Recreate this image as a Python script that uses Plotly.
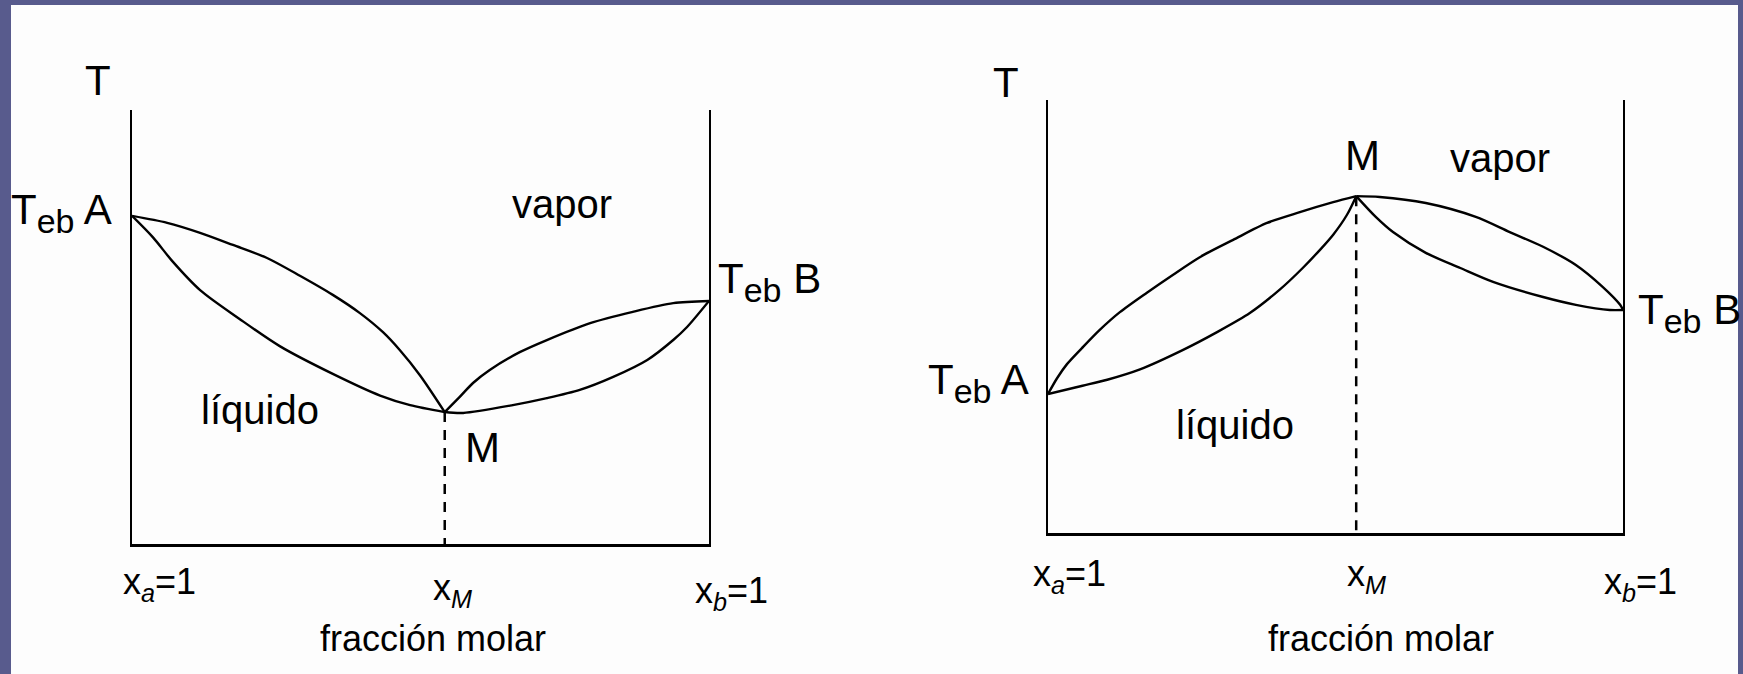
import plotly.graph_objects as go

W, H = 1743, 674

# ---------------- Data (mole fraction x, temperature T in arbitrary units 0-100) ----------------
# Diagram 1: azeótropo de punto de ebullición mínimo
T_A1, T_B1 = 75.6, 56.0
x_M1, T_M1 = 0.542, 30.4
vap1_left_x = [0, 0.061, 0.118, 0.175, 0.234, 0.291, 0.348, 0.395, 0.435, 0.464, 0.499, 0.542]
vap1_left_T = [75.6, 74.0, 71.7, 68.9, 65.9, 61.8, 57.4, 53.2, 48.8, 44.7, 38.9, 30.4]
liq1_left_x = [0, 0.036, 0.071, 0.118, 0.187, 0.256, 0.348, 0.430, 0.482, 0.542]
liq1_left_T = [75.6, 70.7, 65.0, 58.5, 51.8, 45.6, 39.2, 34.2, 32.0, 30.4]
vap1_right_x = [0.542, 0.568, 0.591, 0.620, 0.672, 0.719, 0.794, 0.868, 0.938, 1.0]
vap1_right_T = [30.4, 33.9, 37.1, 40.1, 44.2, 47.0, 50.9, 53.5, 55.5, 56.0]
liq1_right_x = [0.542, 0.574, 0.660, 0.719, 0.776, 0.834, 0.893, 0.938, 0.962, 1.0]
liq1_right_T = [30.4, 30.2, 32.0, 33.6, 35.5, 38.5, 42.4, 47.0, 50.0, 56.0]

# Diagram 2: azeótropo de punto de ebullición máximo
T_A2, T_B2 = 32.1, 51.5
x_M2, T_M2 = 0.536, 77.8
vap2_left_x = [0, 0.016, 0.033, 0.059, 0.090, 0.125, 0.172, 0.217, 0.264, 0.322, 0.381, 0.438, 0.496, 0.536]
vap2_left_T = [32.1, 35.8, 39.0, 42.7, 46.9, 51.0, 55.5, 59.6, 63.7, 67.7, 71.6, 74.1, 76.4, 77.8]
liq2_left_x = [0, 0.060, 0.103, 0.160, 0.235, 0.294, 0.351, 0.403, 0.443, 0.473, 0.496, 0.520, 0.536]
liq2_left_T = [32.1, 34.0, 35.4, 37.8, 42.3, 46.4, 50.8, 56.2, 61.2, 65.4, 68.9, 73.5, 77.8]
vap2_right_x = [0.536, 0.577, 0.657, 0.744, 0.803, 0.861, 0.918, 0.965, 0.995, 1.0]
vap2_right_T = [77.8, 77.6, 76.2, 73.0, 69.5, 66.1, 61.9, 56.8, 52.7, 51.5]
liq2_right_x = [0.536, 0.570, 0.600, 0.657, 0.717, 0.774, 0.861, 0.918, 0.977, 1.0]
liq2_right_T = [77.8, 73.0, 69.5, 64.7, 61.2, 58.0, 54.5, 52.7, 51.5, 51.5]

# Text labels
axis_T = "T"
label_TA = "T<sub><span style='font-size:34px'>eb</span></sub> A"
label_TB = "T<sub><span style='font-size:34px'>eb</span></sub> B"
label_vapor = "vapor"
label_liquido = "líquido"
label_M = "M"
tick_text = ["x<sub><i>a</i></sub>=1", "x<sub><i>M</i></sub>", "x<sub><i>b</i></sub>=1"]
axis_title = "fracción molar"

FONT = "Liberation Sans, Arial, sans-serif"
BLUE = "#585b8d"

fig = go.Figure()

line_style = dict(color="black", width=2.4, shape="spline", smoothing=0.8)

def add_curves(xs_list, ts_list, xa, ya):
    for xs, ts in zip(xs_list, ts_list):
        fig.add_trace(go.Scatter(x=xs, y=ts, mode="lines", line=line_style,
                                 xaxis=xa, yaxis=ya, hoverinfo="skip", showlegend=False))

add_curves([vap1_left_x, liq1_left_x, vap1_right_x, liq1_right_x],
           [vap1_left_T, liq1_left_T, vap1_right_T, liq1_right_T], "x", "y")
add_curves([vap2_left_x, liq2_left_x, vap2_right_x, liq2_right_x],
           [vap2_left_T, liq2_left_T, vap2_right_T, liq2_right_T], "x2", "y2")

# dashed verticals at the azeotrope composition
dash_style = dict(color="black", width=2.5, dash="10px,8px")
fig.add_trace(go.Scatter(x=[x_M1, x_M1], y=[T_M1, 0], mode="lines", line=dash_style,
                         xaxis="x", yaxis="y", hoverinfo="skip", showlegend=False))
fig.add_trace(go.Scatter(x=[x_M2, x_M2], y=[T_M2, 0], mode="lines", line=dash_style,
                         xaxis="x2", yaxis="y2", hoverinfo="skip", showlegend=False))

def px(v):
    return v / W

def py(v):
    return 1 - v / H

xa_common = dict(range=[0, 1], showline=True, linewidth=3, linecolor="black", mirror=False,
                 showgrid=False, zeroline=False, showticklabels=False, ticks="", fixedrange=True)
ya_common = dict(range=[0, 100], showline=True, linewidth=2, linecolor="black", mirror=True,
                 showgrid=False, zeroline=False, showticklabels=False, ticks="", fixedrange=True)

fig.update_layout(
    width=W, height=H,
    margin=dict(l=0, r=0, t=0, b=0),
    paper_bgcolor=BLUE,
    plot_bgcolor="rgba(0,0,0,0)",
    xaxis=dict(domain=[px(132), px(709)], anchor="y", **xa_common),
    yaxis=dict(domain=[py(544), py(110)], anchor="x", **ya_common),
    xaxis2=dict(domain=[px(1048), px(1623)], anchor="y2", **xa_common),
    yaxis2=dict(domain=[py(533), py(100)], anchor="x2", **ya_common),
    shapes=[dict(type="rect", xref="paper", yref="paper", x0=px(11), x1=px(1738),
                 y0=0, y1=py(5), fillcolor="#fdfdfd", line=dict(width=0), layer="below")],
    showlegend=False,
)

ann = []

def text(s, x, y, size=42, xanchor="center", xref="paper", xshift=0):
    ann.append(dict(text=s, x=x if xref != "paper" else px(x), y=py(y), xref=xref, yref="paper",
                    xanchor=xanchor, yanchor="middle", showarrow=False, xshift=xshift,
                    font=dict(family=FONT, size=size, color="black")))

# Diagram 1 labels
text(axis_T, 98, 80)
text(label_TA, 9, 213, xanchor="left")
text(label_TB, 716, 282, xanchor="left")
text(label_vapor, 562, 204, size=40)
text(label_liquido, 260, 410, size=40)
text(label_M, 482, 447)
text(tick_text[0], 0, 584, size=36, xanchor="left", xref="x", xshift=-11)
text(tick_text[1], x_M1, 590, size=36, xanchor="left", xref="x", xshift=-14)
text(tick_text[2], 1, 593, size=36, xanchor="left", xref="x", xshift=-16)
text(axis_title, 433, 638, size=36)

# Diagram 2 labels
text(axis_T, 1006, 83)
text(label_TA, 926, 383, xanchor="left")
text(label_TB, 1636, 313, xanchor="left")
text(label_vapor, 1500, 158, size=40)
text(label_liquido, 1235, 425, size=40)
text(label_M, 1362, 155)
text(tick_text[0], 0, 576, size=36, xanchor="left", xref="x2", xshift=-17)
text(tick_text[1], x_M2, 576, size=36, xanchor="left", xref="x2", xshift=-11)
text(tick_text[2], 1, 584, size=36, xanchor="left", xref="x2", xshift=-21)
text(axis_title, 1381, 638, size=36)

fig.update_layout(annotations=ann)

fig.write_html(
    "out.html",
    config={"displayModeBar": False, "staticPlot": True},
    post_script="document.documentElement.style.margin='0';document.body.style.margin='0';"
                "document.body.style.overflow='hidden';",
)
